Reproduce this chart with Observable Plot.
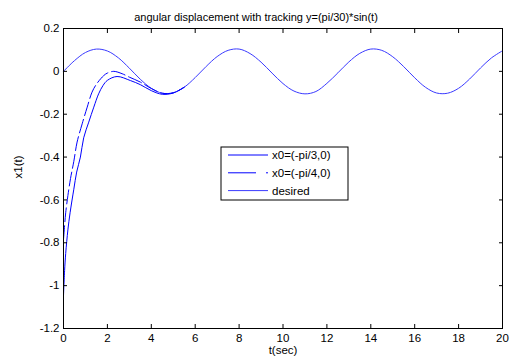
<!DOCTYPE html>
<html>
<head>
<meta charset="utf-8">
<script src="https://cdn.jsdelivr.net/npm/d3@7"></script>
<script src="https://cdn.jsdelivr.net/npm/@observablehq/plot@0.6"></script>
<style>
  html, body { margin: 0; padding: 0; background: #fff; }
  #chart svg { display: block; font-family: "Liberation Sans", Arial, sans-serif; }
</style>
</head>
<body>
<div id="chart"></div>
<script>
// ---- data ----
const titleText = ["angular displacement with tracking y=(pi/30)*sin(t)"];
const xLabel = ["t(sec)"];
const yLabel = ["x1(t)"];
const xTicks = [0, 2, 4, 6, 8, 10, 12, 14, 16, 18, 20];
const yTicks = [-1.2, -1, -0.8, -0.6, -0.4, -0.2, 0, 0.2];
const seriesNames = ["x0=(-pi/3,0)", "x0=(-pi/4,0)", "desired"];

// x0 = (-pi/3, 0)
const tA = [0, 0.05, 0.1, 0.2, 0.3, 0.47, 0.6, 0.77, 0.92, 1.15, 1.38, 1.6, 1.8, 2.0, 2.44, 3.05, 3.5, 4.0, 4.5, 5.0, 5.5];
const yA = [-1.047, -0.93, -0.85, -0.74, -0.66, -0.55, -0.47, -0.40, -0.31, -0.237, -0.167, -0.105, -0.066, -0.042, -0.024, -0.043, -0.062, -0.09, -0.107, -0.101, -0.074];
// x0 = (-pi/4, 0)
const tB = [0, 0.05, 0.1, 0.2, 0.32, 0.47, 0.62, 0.85, 1.08, 1.3, 1.5, 1.83, 2.0, 2.29, 2.67, 3.0, 3.5, 4.0, 4.5, 5.0, 5.5];
const yB = [-0.785, -0.72, -0.66, -0.58, -0.50, -0.42, -0.33, -0.245, -0.167, -0.097, -0.06, -0.02, -0.008, 0.0, -0.011, -0.027, -0.05, -0.08, -0.102, -0.100, -0.074];
// desired
const tD = [0,0.5,1,1.5,2,2.5,3,3.5,4,4.5,5,5.5,6,6.5,7,7.5,8,8.5,9,9.5,10,10.5,11,11.5,12,12.5,13,13.5,14,14.5,15,15.5,16,16.5,17,17.5,18,18.5,19,19.5,20];
const yD = [0,0.050,0.088,0.104,0.095,0.063,0.015,-0.037,-0.079,-0.102,-0.100,-0.074,-0.029,0.023,0.069,0.098,0.104,0.083,0.043,-0.008,-0.057,-0.092,-0.105,-0.094,-0.056,-0.007,0.044,0.084,0.104,0.098,0.068,0.022,-0.030,-0.075,-0.101,-0.102,-0.079,-0.036,0.016,0.063,0.096];

const colA = "#0000ff", colB = "#0000ff", colD = "#3a3aff";
const rows = (ts, ys) => ts.map((t, i) => ({t, v: ys[i]}));
const dataA = rows(tA, yA), dataB = rows(tB, yB), dataD = rows(tD, yD);
const fmt = d => String(+d.toFixed(1));
const none = () => "";

const W = 519, H = 358;
const plot = Plot.plot({
  width: W, height: H,
  marginLeft: 63, marginRight: 17, marginTop: 28, marginBottom: 30,
  style: {fontFamily: "'Liberation Sans', Arial, sans-serif", fontSize: "11px", background: "#fff", color: "#000"},
  x: {domain: [0, 20], axis: null},
  y: {domain: [-1.2, 0.2], axis: null},
  marks: [
    Plot.line(dataD, {x: "t", y: "v", stroke: colD, strokeWidth: 1, curve: "catmull-rom"}),
    Plot.line(dataB, {x: "t", y: "v", stroke: colB, strokeWidth: 1, curve: "catmull-rom", strokeDasharray: "14,4"}),
    Plot.line(dataA, {x: "t", y: "v", stroke: colA, strokeWidth: 1, curve: "catmull-rom"}),
    Plot.frame({stroke: "#000", strokeWidth: 1}),
    Plot.axisX({ticks: xTicks, anchor: "bottom", tickSize: -4, tickFormat: none, label: null, stroke: "#000"}),
    Plot.axisX({ticks: xTicks, anchor: "top", tickSize: -4, tickFormat: none, label: null, stroke: "#000"}),
    Plot.axisY({ticks: yTicks, anchor: "left", tickSize: -4, tickFormat: none, label: null, stroke: "#000"}),
    Plot.axisY({ticks: yTicks, anchor: "right", tickSize: -4, tickFormat: none, label: null, stroke: "#000"}),
    Plot.axisX({ticks: xTicks, anchor: "bottom", tickSize: 0, tickPadding: 5, tickFormat: fmt, label: null, fontSize: 11.5, fill: "#000"}),
    Plot.axisY({ticks: yTicks, anchor: "left", tickSize: 0, tickPadding: 4, tickFormat: fmt, label: null, fontSize: 11.5, fill: "#000"}),
    Plot.text(titleText, {frameAnchor: "top", dx: -27, dy: -15, text: d => d, fontSize: 11, fill: "#000"}),
    Plot.text(xLabel, {frameAnchor: "bottom", dy: 25, text: d => d, fontSize: 11.5, fill: "#000"}),
    Plot.text(yLabel, {frameAnchor: "left", dx: -45, rotate: -90, text: d => d, fontSize: 11.5, fill: "#000"})
  ]
});
document.getElementById("chart").appendChild(plot);

// legend box (MATLAB style)
const svg = d3.select(plot);
const lg = svg.append("g").attr("class", "legend").attr("text-anchor", "start");
const bx = 221, by = 147, bw = 127, bh = 53;
lg.append("rect").attr("x", bx).attr("y", by).attr("width", bw).attr("height", bh)
  .attr("fill", "#fff").attr("stroke", "#000").attr("stroke-width", 1);
const legendStyles = [
  {stroke: colA, dash: null},
  {stroke: colB, dash: "28,10,2,20"},
  {stroke: colD, dash: null}
];
seriesNames.forEach((name, i) => {
  const yy = by + 8 + i * 17.8;
  lg.append("line").attr("x1", bx + 7).attr("x2", bx + 47).attr("y1", yy).attr("y2", yy)
    .attr("stroke", legendStyles[i].stroke).attr("stroke-width", 1)
    .attr("stroke-dasharray", legendStyles[i].dash);
  lg.append("text").attr("x", bx + 51).attr("y", yy).attr("dy", "0.35em")
    .attr("text-anchor", "start").attr("font-size", 11.5).attr("fill", "#000").text(name);
});
</script>
</body>
</html>
